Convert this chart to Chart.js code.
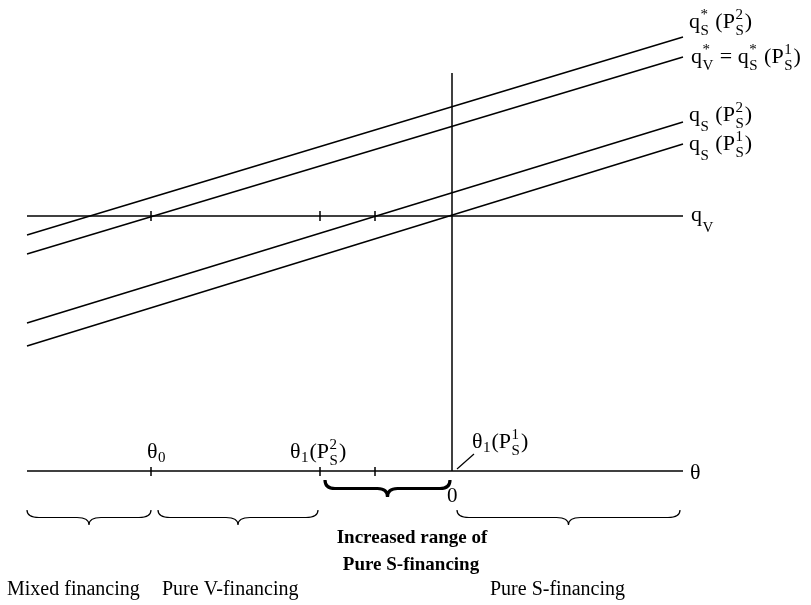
<!DOCTYPE html>
<html>
<head>
<meta charset="utf-8">
<script src="https://cdn.jsdelivr.net/npm/chart.js@4/dist/chart.umd.min.js"></script>
<style>
    html, body { margin: 0; padding: 0; background: #fff; }
    #wrap { width: 811px; height: 605px; }
</style>
</head>
<body>
<div id="wrap"><canvas id="chart" width="811" height="605"></canvas></div>
<script>
// Diagram units: x = theta (0 where the vertical line meets the axis), y = q (0 on the theta axis)
const lineX = [-425, 231];
const qSstarP2 = [236, 434];   // q*_S(P2_S)
const qVstar = [217, 414];     // q*_V = q*_S(P1_S)
const qSP2 = [148, 349];       // q_S(P2_S)
const qSP1 = [125, 327];       // q_S(P1_S)
const qV = 255;
const verticalTop = 398;
const thetaMarks = [-301, -132, -77];
const tickOnQV = [250, 260];
const tickOnAxis = [4, -5];

// ranges under the axis (theta units)
const thinBraces = [[-425, -301], [-294, -134], [5, 228]];
const boldBrace = [-127, -2];

document.addEventListener('DOMContentLoaded', () => {
    const canvas = document.getElementById('chart');
    const FONT = '"Liberation Serif", "Times New Roman", serif';

    const pts = (xs, ys) => xs.map((x, i) => ({ x: x, y: ys[i] }));

    const lineStyle = {
        showLine: true,
        borderColor: '#000',
        borderWidth: 1.5,
        pointRadius: 0,
        fill: false
    };

    const datasets = [
        { ...lineStyle, data: pts(lineX, qSstarP2) },
        { ...lineStyle, data: pts(lineX, qVstar) },
        { ...lineStyle, data: pts(lineX, qSP2) },
        { ...lineStyle, data: pts(lineX, qSP1) },
        { ...lineStyle, data: pts(lineX, [qV, qV]) },
        { ...lineStyle, data: pts(lineX, [0, 0]) },
        { ...lineStyle, data: pts([0, 0], [0, verticalTop]) }
    ];
    thetaMarks.forEach(m => {
        datasets.push({ ...lineStyle, data: pts([m, m], tickOnQV) });
        datasets.push({ ...lineStyle, data: pts([m, m], tickOnAxis) });
    });

    // draws text with sub / superscripts
    function drawRich(ctx, x, y, parts, size) {
        const small = Math.round(size * 0.7);
        let cx = x;
        ctx.textBaseline = 'alphabetic';
        ctx.textAlign = 'left';
        parts.forEach(p => {
            if (typeof p === 'string') {
                ctx.font = `${size}px ${FONT}`;
                ctx.fillText(p, cx, y);
                cx += ctx.measureText(p).width;
            } else if (p.both) {
                ctx.font = `${small}px ${FONT}`;
                const [sup, sub] = p.both;
                ctx.fillText(sup, cx + 0.5, y - 9);
                ctx.fillText(sub, cx + 0.5, y + 7);
                cx += Math.max(ctx.measureText(sup).width, ctx.measureText(sub).width) + 1.5;
            } else if (p.sub) {
                ctx.font = `${small}px ${FONT}`;
                ctx.fillText(p.sub, cx + 0.5, y + (p.dy || 5));
                cx += ctx.measureText(p.sub).width + 1.5;
            }
        });
    }

    function brace(ctx, x1, x2, y0, h, r) {
        const mid = (x1 + x2) / 2;
        const yf = y0 + h / 2;
        ctx.beginPath();
        ctx.moveTo(x1, y0);
        ctx.quadraticCurveTo(x1, yf, x1 + r, yf);
        ctx.lineTo(mid - r, yf);
        ctx.quadraticCurveTo(mid, yf, mid, y0 + h);
        ctx.quadraticCurveTo(mid, yf, mid + r, yf);
        ctx.lineTo(x2 - r, yf);
        ctx.quadraticCurveTo(x2, yf, x2, y0);
        ctx.stroke();
    }

    const annotations = {
        id: 'annotations',
        afterDatasetsDraw(chart) {
            const ctx = chart.ctx;
            const xs = chart.scales.x;
            const ys = chart.scales.y;
            const px = v => xs.getPixelForValue(v);
            const py = v => ys.getPixelForValue(v);
            ctx.save();
            ctx.fillStyle = '#000';
            ctx.strokeStyle = '#000';

            // braces
            ctx.lineWidth = 1.2;
            thinBraces.forEach(b => brace(ctx, px(b[0]), px(b[1]), py(-39), 15, 12));
            ctx.lineWidth = 3.2;
            brace(ctx, px(boldBrace[0]), px(boldBrace[1]), py(-9), 17, 10);

            // leader line to theta_1(P1_S)
            ctx.lineWidth = 1.2;
            ctx.beginPath();
            ctx.moveTo(px(0) + 5, py(0) - 2);
            ctx.lineTo(px(0) + 22, py(0) - 17);
            ctx.stroke();

            const xEnd = px(lineX[1]);
            drawRich(ctx, xEnd + 6, py(qSstarP2[1]) - 9,
                ['q', { both: ['*', 'S'] }, ' (P', { both: ['2', 'S'] }, ')'], 22);
            drawRich(ctx, xEnd + 8, py(qVstar[1]) + 6,
                ['q', { both: ['*', 'V'] }, ' = q', { both: ['*', 'S'] }, ' (P', { both: ['1', 'S'] }, ')'], 22);
            drawRich(ctx, xEnd + 6, py(qSP2[1]) - 1,
                ['q', { sub: 'S', dy: 10 }, ' (P', { both: ['2', 'S'] }, ')'], 22);
            drawRich(ctx, xEnd + 6, py(qSP1[1]) + 6,
                ['q', { sub: 'S', dy: 10 }, ' (P', { both: ['1', 'S'] }, ')'], 22);
            drawRich(ctx, xEnd + 8, py(qV) + 5, ['q', { sub: 'V', dy: 11 }], 22);
            drawRich(ctx, xEnd + 7, py(0) + 8, ['\u03b8'], 22);

            drawRich(ctx, px(thetaMarks[0]) - 4, py(0) - 13, ['\u03b8', { sub: '0', dy: 4 }], 22);
            drawRich(ctx, px(thetaMarks[1]) - 30, py(0) - 13,
                ['\u03b8', { sub: '1', dy: 4 }, '(P', { both: ['2', 'S'] }, ')'], 22);
            drawRich(ctx, px(0) + 20, py(0) - 23,
                ['\u03b8', { sub: '1', dy: 4 }, '(P', { both: ['1', 'S'] }, ')'], 22);
            drawRich(ctx, px(0) - 5, py(0) + 31, ['0'], 21);

            // range captions
            ctx.textAlign = 'center';
            ctx.font = `bold 19px ${FONT}`;
            ctx.fillText('Increased range of', 412, 543);
            ctx.fillText('Pure S-financing', 411, 570);
            ctx.textAlign = 'left';
            ctx.font = `20px ${FONT}`;
            ctx.fillText('Mixed financing', 7, 595);
            ctx.fillText('Pure V-financing', 162, 595);
            ctx.fillText('Pure S-financing', 490, 595);
            ctx.restore();
        }
    };

    new Chart(canvas, {
        type: 'scatter',
        data: { datasets: datasets },
        options: {
            responsive: false,
            animation: false,
            events: [],
            layout: { padding: 0 },
            plugins: {
                legend: { display: false },
                tooltip: { enabled: false }
            },
            scales: {
                x: { type: 'linear', min: -452, max: 359, display: false },
                y: { type: 'linear', min: -134, max: 471, display: false }
            }
        },
        plugins: [annotations]
    });
});
</script>
</body>
</html>
